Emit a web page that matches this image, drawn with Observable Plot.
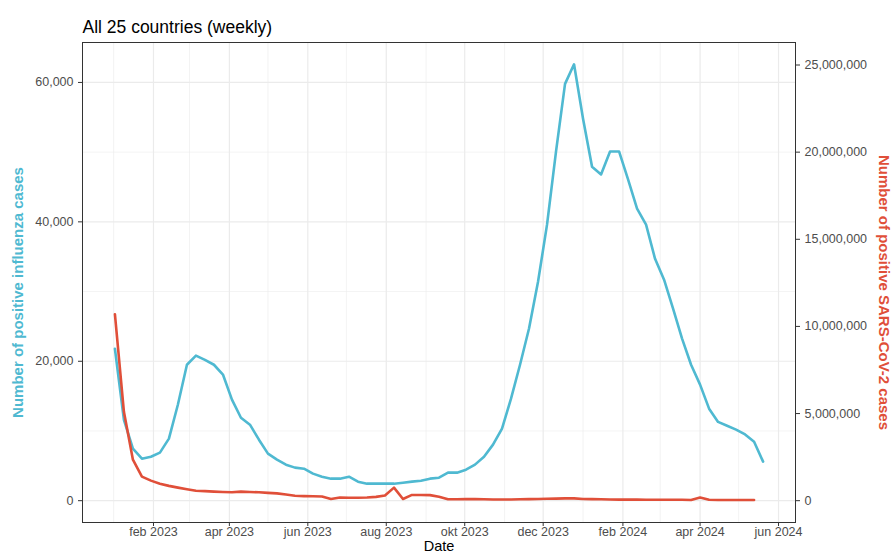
<!DOCTYPE html>
<html>
<head>
<meta charset="utf-8">
<script src="https://cdn.jsdelivr.net/npm/d3@7"></script>
<script src="https://cdn.jsdelivr.net/npm/@observablehq/plot@0.6"></script>
<style>
  body { margin: 0; background: #fff; font-family: "Liberation Sans", Arial, sans-serif; }
</style>
</head>
<body>
<div id="chart"></div>
<script>
// weekly data, first week starting 2023-01-02
const firstWeek = "2023-01-02"
const influenza = [21800, 11600, 7460, 6030, 6300, 6900, 8900, 13800, 19500, 20800, 20200, 19500,
  18100, 14500, 11900, 10900, 8750, 6750, 5880, 5170, 4740, 4590, 3880, 3440, 3160, 3160, 3440,
  2730, 2440, 2440, 2440, 2440, 2580, 2730, 2870, 3160,
  3300, 4020, 4020, 4450, 5170, 6310, 8040, 10330, 14640, 19500, 24700, 31400, 39600, 50100,
  59800, 62600, 54800, 47900, 46800, 50100, 50100, 46100, 41900, 39600, 34700, 31700, 27550,
  23250, 19500, 16650, 13200, 11300, 10750, 10200, 9500, 8460, 5600]
const sarsCov2 = [10700000, 5100000, 2350000, 1380000, 1150000, 970000, 850000, 750000, 660000,
  570000, 550000, 520000, 500000, 480000, 520000, 500000, 480000, 450000, 420000, 350000, 280000,
  260000, 250000, 240000, 100000, 180000, 170000, 170000, 180000, 220000, 300000, 750000, 100000,
  330000, 330000, 320000, 220000, 80000, 80000, 90000, 90000, 80000, 70000, 70000, 70000, 80000,
  90000, 100000, 110000, 120000, 130000, 130000, 100000, 90000, 80000, 70000, 60000, 60000, 60000,
  50000, 50000, 50000, 50000, 50000, 40000, 180000, 50000, 40000, 40000, 40000, 40000, 40000, null]
const ratio = 400
const monthNames = ["jan", "feb", "mar", "apr", "maj", "jun", "jul", "aug", "sep", "okt", "nov", "dec"]
const majorTicks = ["2023-02-01", "2023-04-01", "2023-06-01", "2023-08-01", "2023-10-01", "2023-12-01",
  "2024-02-01", "2024-04-01", "2024-06-01"].map(d => new Date(d))
const minorTicks = ["2023-01-01", "2023-03-01", "2023-05-01", "2023-07-01", "2023-09-01", "2023-11-01",
  "2024-01-01", "2024-03-01", "2024-05-01"].map(d => new Date(d))
const leftTicks = [0, 20000, 40000, 60000]
const leftMinor = [10000, 30000, 50000]
const rightTicks = [0, 5e6, 10e6, 15e6, 20e6, 25e6]

const start = new Date(firstWeek)
const data = influenza.map((v, i) => ({
  date: d3.utcDay.offset(start, i * 7),
  flu: v,
  sars: sarsCov2[i] == null ? NaN : sarsCov2[i] / ratio
}))

const last = data[data.length - 1].date
const pad = (last - start) * 0.05
const yMax = 62600
const yPad = yMax * 0.05

const blue = "#4fb9d1"
const red = "#e04f39"
const fmt = d3.format(",")

const chart = Plot.plot({
  width: 893,
  height: 557,
  marginLeft: 82,
  marginRight: 98,
  marginTop: 42,
  marginBottom: 35,
  style: { fontFamily: "Liberation Sans, Arial, sans-serif", fontSize: "12px", color: "#4d4d4d" },
  x: { type: "utc", domain: [new Date(+start - pad), new Date(+last + pad)] },
  y: { domain: [-yPad, yMax + yPad] },
  marks: [
    Plot.gridX(minorTicks, { stroke: "#ebebeb", strokeOpacity: 1, strokeWidth: 0.6 }),
    Plot.gridX(majorTicks, { stroke: "#ebebeb", strokeOpacity: 1, strokeWidth: 1.2 }),
    Plot.gridY(leftMinor, { stroke: "#ebebeb", strokeOpacity: 1, strokeWidth: 0.6 }),
    Plot.gridY(leftTicks, { stroke: "#ebebeb", strokeOpacity: 1, strokeWidth: 1.2 }),
    Plot.frame({ stroke: "#333", strokeWidth: 1 }),
    Plot.axisX(majorTicks, {
      tickFormat: d => `${monthNames[d.getUTCMonth()]} ${d.getUTCFullYear()}`,
      label: null, fontSize: 12.5, tickSize: 4, tickPadding: 1, stroke: "#333"
    }),
    Plot.axisY(leftTicks, {
      anchor: "left", tickFormat: fmt, label: null, tickSize: 4, stroke: "#333", fontSize: 12.5
    }),
    Plot.axisY(rightTicks.map(v => v / ratio), {
      anchor: "right", tickFormat: v => fmt(Math.round(v * ratio)), label: null,
      tickSize: 4, stroke: "#333", fontSize: 12.5
    }),
    Plot.line(data, { x: "date", y: "flu", stroke: blue, strokeWidth: 2.6 }),
    Plot.line(data, { x: "date", y: "sars", stroke: red, strokeWidth: 2.6 }),
    Plot.text(["Date"], {
      frameAnchor: "bottom", dy: 28, fill: "#000", fontSize: 14.5
    }),
    Plot.text(["Number of positive influenza cases"], {
      frameAnchor: "left", textAnchor: "middle", rotate: -90, dx: -64, dy: 10,
      fill: blue, fontWeight: "bold", fontSize: 15
    }),
    Plot.text(["Number of positive SARS-CoV-2 cases"], {
      frameAnchor: "right", textAnchor: "middle", rotate: 90, dx: 88, dy: 10,
      fill: red, fontWeight: "bold", fontSize: 15
    }),
    Plot.text(["All 25 countries (weekly)"], {
      frameAnchor: "top-left", textAnchor: "start", dy: -22, fill: "#000", fontSize: 17.5
    })
  ]
})

d3.select("#chart").append(() => chart)
</script>
</body>
</html>
